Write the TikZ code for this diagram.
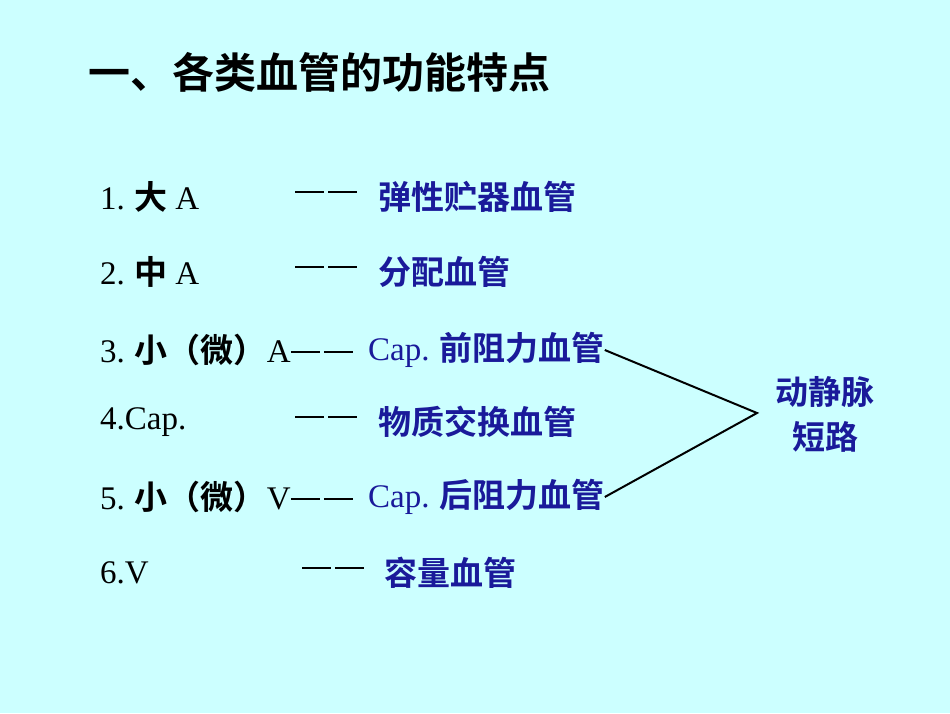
\documentclass[tikz,border=0pt]{standalone}
\usepackage{fontspec}
\newfontfamily\cjk{Noto Sans CJK SC Bold}
\newfontfamily\lat{Liberation Serif}
\definecolor{bg}{HTML}{CCFFFF}
\definecolor{bl}{HTML}{1A1A9A}
\newcommand{\dd}{\rule[0.3em]{29pt}{2pt}\hspace{4pt}\rule[0.3em]{29pt}{2pt}}
\begin{document}
\begin{tikzpicture}[x=1pt,y=-1pt,
  t/.style={anchor=west,inner sep=0pt,font=\cjk\fontsize{33}{36}\selectfont},
  b/.style={t,text=bl},
  ln/.style={line width=2pt}]
\fill[bg] (0,0) rectangle (950,713);
\useasboundingbox (0,0) rectangle (950,713);
\node[t,font=\cjk\fontsize{42}{46}\selectfont] (title) at (88,72) {一、各类血管的功能特点};
\node[t] (l1) at (100,197) {{\lat 1.} 大 {\lat A}};
\node[t] (d1) at (295,197) {\dd};
\node[b] (r1) at (378,197) {弹性贮器血管};
\node[t] (l2) at (100,272) {{\lat 2.} 中 {\lat A}};
\node[t] (d2) at (295,272) {\dd};
\node[b] (r2) at (378,272) {分配血管};
\node[t] (l3) at (100,350) {{\lat 3.} 小（微）{\lat A}\dd};
\node[b] (r3) at (368,350) {{\lat Cap.} 前阻力血管};
\node[t] (l4) at (100,422) {{\lat 4.Cap.}};
\node[t] (d4) at (295,422) {\dd};
\node[b] (r4) at (378,422) {物质交换血管};
\node[t] (l5) at (100,497) {{\lat 5.} 小（微）{\lat V}\dd};
\node[b] (r5) at (368,497) {{\lat Cap.} 后阻力血管};
\node[t] (l6) at (100,573) {{\lat 6.V}};
\node[t] (d6) at (302,573) {\dd};
\node[b] (r6) at (384,573) {容量血管};
\coordinate (tip) at (757,413);
\draw[ln] (r3.east) -- (tip) -- (r5.east);
\node[b,anchor=center] (s1) at (825,392) {动静脉};
\node[b,anchor=center] (s2) at (825,437) {短路};
\end{tikzpicture}
\end{document}
